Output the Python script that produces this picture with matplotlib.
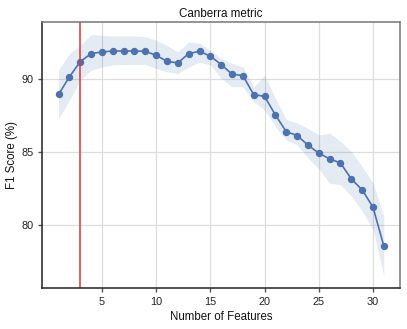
import matplotlib
matplotlib.use("Agg")
import matplotlib.pyplot as plt
import numpy as np

plt.rcParams['font.family'] = ['Liberation Sans', 'DejaVu Sans']

n_features = list(range(1, 32))
f1_mean = [88.97, 90.18, 91.23, 91.78, 91.89, 91.96, 91.96, 91.96, 91.94, 91.66,
           91.25, 91.14, 91.78, 91.94, 91.60, 91.03, 90.36, 90.27, 88.95, 88.84,
           87.55, 86.41, 86.14, 85.48, 84.93, 84.53, 84.25, 83.15, 82.40, 81.21, 78.53]
f1_upper = [90.66, 91.78, 92.35, 93.10, 93.03, 92.99, 92.99, 92.99, 92.95, 92.69,
            92.35, 91.89, 92.58, 92.50, 92.00, 91.44, 91.10, 90.86, 89.49, 90.29,
            88.70, 87.26, 86.99, 86.64, 86.18, 86.30, 85.73, 85.04, 84.00, 82.88, 80.60]
f1_lower = [87.30, 88.55, 89.95, 90.64, 90.86, 91.00, 91.03, 91.03, 91.03, 90.75,
            90.52, 90.41, 90.86, 91.20, 91.00, 90.07, 89.50, 89.49, 88.47, 87.90,
            86.75, 85.84, 85.50, 84.59, 83.85, 82.85, 82.75, 81.97, 80.94, 79.68, 76.48]
selected_k = 3
title = "Canberra metric"
xlabel = "Number of Features"
ylabel = "F1 Score (%)"

fig = plt.figure(figsize=(4.07, 3.29), dpi=100)
ax = fig.add_axes([0.104, 0.125, 0.879, 0.807])

blue = '#4c72b0'
ax.fill_between(n_features, f1_lower, f1_upper, color=blue, alpha=0.14, linewidth=0)
ax.plot(n_features, f1_mean, color=blue, marker='o', markersize=4.3, linewidth=1.2)
ax.axvline(selected_k, color='#d9383a', linewidth=1.1)

ax.set_xticks([5, 10, 15, 20, 25, 30])
ax.set_yticks([80, 85, 90])
ax.grid(True, color='#dddddd', linewidth=0.9)
ax.set_axisbelow(True)

for s in ['left', 'bottom']:
    ax.spines[s].set_color('#222222')
    ax.spines[s].set_linewidth(1.1)
for s in ['top', 'right']:
    ax.spines[s].set_color('#777777')
    ax.spines[s].set_linewidth(1.1)

ax.tick_params(axis='both', labelsize=7.8, colors='#555555', labelcolor='#222222',
               length=3, width=1)
ax.set_title(title, fontsize=8.4, color='#111111', pad=4)
ax.set_xlabel(xlabel, fontsize=8.3, color='#111111', labelpad=3)
ax.set_ylabel(ylabel, fontsize=8.3, color='#111111', labelpad=2)

fig.savefig('out.png', dpi=100)
